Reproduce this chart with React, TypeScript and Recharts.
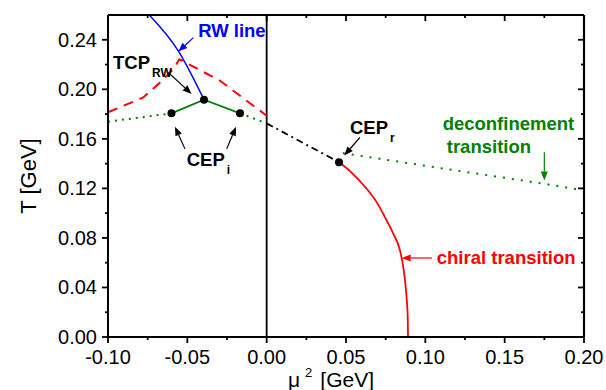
import React from 'react';
import { ComposedChart, Line, XAxis, YAxis, ReferenceLine, ReferenceDot, Label } from 'recharts';

// tick positions (majors get labels)
const xTicks = [-0.1, -0.075, -0.05, -0.025, 0, 0.025, 0.05, 0.075, 0.1, 0.125, 0.15, 0.175, 0.2];
const yTicks = [0, 0.02, 0.04, 0.06, 0.08, 0.1, 0.12, 0.14, 0.16, 0.18, 0.2, 0.22, 0.24];

// phase lines (x = mu^2, T in GeV)
const rwLine = [
  { x: -0.074, T: 0.26 },
  { x: -0.0557, T: 0.231 },
  { x: -0.0395, T: 0.1916 },
];
const rwDashed = [
  { x: -0.1, T: 0.1815 },
  { x: -0.0778, T: 0.1934 },
  { x: -0.0672, T: 0.2055 },
  { x: -0.0588, T: 0.2163 },
  { x: -0.055, T: 0.2243 },
  { x: -0.0294, T: 0.2069 },
  { x: 0.0, T: 0.1787 },
];
const firstOrder = [
  { x: -0.06, T: 0.1806 },
  { x: -0.0395, T: 0.1916 },
  { x: -0.0168, T: 0.1806 },
];
const deconfLeft = [
  { x: -0.1, T: 0.1739 },
  { x: -0.08, T: 0.1772 },
  { x: -0.06, T: 0.1806 },
];
const deconfMid = [
  { x: -0.0168, T: 0.1806 },
  { x: 0.0, T: 0.1725 },
];
const crossover = [
  { x: 0.0, T: 0.1725 },
  { x: 0.0456, T: 0.1411 },
];
const deconfRight = [
  { x: 0.048, T: 0.1485 },
  { x: 0.1155, T: 0.1352 },
  { x: 0.175, T: 0.1237 },
  { x: 0.2, T: 0.1183 },
];
const chiral = [
  { x: 0.0456, T: 0.1411 },
  { x: 0.0525, T: 0.134 },
  { x: 0.063, T: 0.1197 },
  { x: 0.0693, T: 0.1089 },
  { x: 0.0756, T: 0.0942 },
  { x: 0.0798, T: 0.0835 },
  { x: 0.084, T: 0.07 },
  { x: 0.0861, T: 0.0566 },
  { x: 0.0874, T: 0.0432 },
  { x: 0.0883, T: 0.0298 },
  { x: 0.0889, T: 0.0163 },
  { x: 0.0891, T: 0.0 },
];
const criticalPoints = [
  { x: -0.06, T: 0.1806 },
  { x: -0.0395, T: 0.1916 },
  { x: -0.0168, T: 0.1806 },
  { x: 0.0456, T: 0.1411 },
];

const FONT = '"Liberation Sans", Arial, sans-serif';
const BLUE = '#0000ff';
const RED = '#ff0000';
const GREEN = '#008000';
const TICK = '#000';

const isMajor = (v: number, step: number) => Math.abs(v / step - Math.round(v / step)) < 1e-6;

const BottomTick = ({ x, y, payload }: any) => {
  const major = isMajor(payload.value, 0.05);
  return (
    <g>
      <line x1={x} x2={x} y1={y} y2={y + (major ? 6 : 3)} stroke={TICK} strokeWidth={1.8} />
      {major && (
        <text x={x} y={y + 27} textAnchor="middle" fontSize={20} fontFamily={FONT} fill="#000">
          {payload.value.toFixed(2)}
        </text>
      )}
    </g>
  );
};

const TopTick = ({ x, y, payload }: any) => {
  const major = isMajor(payload.value, 0.05);
  return <line x1={x} x2={x} y1={y} y2={y + (major ? 6 : 3)} stroke={TICK} strokeWidth={1.8} />;
};

const LeftTick = ({ x, y, payload }: any) => {
  const major = isMajor(payload.value, 0.04);
  return (
    <g>
      <line x1={x - (major ? 6 : 3)} x2={x} y1={y} y2={y} stroke={TICK} strokeWidth={1.8} />
      {major && (
        <text x={x - 11} y={y + 7} textAnchor="end" fontSize={20} fontFamily={FONT} fill="#000">
          {payload.value.toFixed(2)}
        </text>
      )}
    </g>
  );
};

const RightTick = ({ x, y, payload }: any) => {
  const major = isMajor(payload.value, 0.04);
  return <line x1={x - (major ? 6 : 3)} x2={x} y1={y} y2={y} stroke={TICK} strokeWidth={1.8} />;
};

const arrow = (color: string) => (p: any) => {
  const { x1, y1, x2, y2 } = p;
  const a = Math.atan2(y2 - y1, x2 - x1);
  const L = 9;
  const W = 3.5;
  const bx = x2 - L * Math.cos(a);
  const by = y2 - L * Math.sin(a);
  const nx = -Math.sin(a) * W;
  const ny = Math.cos(a) * W;
  return (
    <g>
      <line x1={x1} y1={y1} x2={bx} y2={by} stroke={color} strokeWidth={1.2} />
      <polygon points={`${x2},${y2} ${bx + nx},${by + ny} ${bx - nx},${by - ny}`} fill={color} />
    </g>
  );
};

const note = (text: string, color: string, sub?: string, anchor = 'start') => (p: any) => (
  <text x={p.cx} y={p.cy} textAnchor={anchor} fontSize={18.5} fontWeight="bold" fontFamily={FONT} fill={color}>
    {text}
    {sub && (
      <tspan dx={2} dy={8} fontSize={12}>
        {sub}
      </tspan>
    )}
  </text>
);

export default function App() {
  return (
    <div style={{ position: 'absolute', left: 0, top: 0 }}>
      <ComposedChart width={606} height={390} margin={{ top: 14, right: 21, bottom: 0, left: 0 }}>
        <XAxis
          dataKey="x"
          type="number"
          domain={[-0.1, 0.2]}
          ticks={xTicks}
          interval={0}
          tickSize={0}
          tickMargin={0}
          tickLine={false}
          tick={<BottomTick />}
          height={53}
          axisLine={{ stroke: '#000', strokeWidth: 2 }}
        >
          <Label
            content={({ viewBox }: any) => (
              <text x={viewBox.x + 180} y={viewBox.y + 50} fontSize={21} fontFamily={FONT} fill="#000">
                <tspan>μ</tspan>
                <tspan dx={5} dy={-10} fontSize={13}>2</tspan>
                <tspan dx={8} dy={10}>[GeV]</tspan>
              </text>
            )}
          />
        </XAxis>
        <XAxis
          xAxisId="top"
          dataKey="x"
          orientation="top"
          type="number"
          domain={[-0.1, 0.2]}
          ticks={xTicks}
          interval={0}
          tickSize={0}
          tickMargin={0}
          tickLine={false}
          tick={<TopTick />}
          height={1}
          axisLine={{ stroke: '#000', strokeWidth: 2.2 }}
        />
        <YAxis
          dataKey="T"
          type="number"
          domain={[0, 0.26]}
          ticks={yTicks}
          interval={0}
          tickSize={0}
          tickMargin={0}
          tickLine={false}
          tick={<LeftTick />}
          width={108}
          axisLine={{ stroke: '#000', strokeWidth: 2 }}
        >
          <Label
            content={({ viewBox }: any) => {
              const cx = viewBox.x + 28;
              const cy = viewBox.y + viewBox.height / 2;
              return (
                <text
                  x={cx}
                  y={cy}
                  transform={`rotate(-90 ${cx} ${cy})`}
                  textAnchor="middle"
                  dominantBaseline="central"
                  fontSize={22}
                  fontFamily={FONT}
                  fill="#000"
                >
                  T [GeV]
                </text>
              );
            }}
          />
        </YAxis>
        <YAxis
          yAxisId="right"
          dataKey="T"
          orientation="right"
          type="number"
          domain={[0, 0.26]}
          ticks={yTicks}
          interval={0}
          tickSize={0}
          tickMargin={0}
          tickLine={false}
          tick={<RightTick />}
          width={1}
          axisLine={{ stroke: '#000', strokeWidth: 2.2 }}
        />

        <ReferenceLine x={0} stroke="#000" strokeWidth={1.8} />

        <Line data={deconfLeft} dataKey="T" stroke={GREEN} strokeWidth={2} strokeDasharray="2 5" dot={false} activeDot={false} isAnimationActive={false} />
        <Line data={deconfMid} dataKey="T" stroke={GREEN} strokeWidth={2} strokeDasharray="2 5" dot={false} activeDot={false} isAnimationActive={false} />
        <Line data={deconfRight} dataKey="T" stroke={GREEN} strokeWidth={2} strokeDasharray="2 7" dot={false} activeDot={false} isAnimationActive={false} />
        <Line data={crossover} dataKey="T" stroke="#000" strokeWidth={1.8} strokeDasharray="7 4 2 4" dot={false} activeDot={false} isAnimationActive={false} />
        <Line data={rwDashed} dataKey="T" stroke={RED} strokeWidth={2} strokeDasharray="10 7" dot={false} activeDot={false} isAnimationActive={false} />
        <Line data={firstOrder} dataKey="T" stroke={GREEN} strokeWidth={1.8} dot={false} activeDot={false} isAnimationActive={false} />
        <Line data={rwLine} type="monotone" dataKey="T" stroke={BLUE} strokeWidth={1.5} dot={false} activeDot={false} isAnimationActive={false} />
        <Line data={chiral} type="monotone" dataKey="T" stroke={RED} strokeWidth={1.8} dot={false} activeDot={false} isAnimationActive={false} />
        {/* critical points, on the mirrored frame axes (same domains) */}
        <Line
          data={criticalPoints}
          xAxisId="top"
          yAxisId="right"
          dataKey="T"
          stroke="none"
          dot={{ r: 4, fill: '#000', stroke: '#000', strokeWidth: 0 }}
          activeDot={false}
          isAnimationActive={false}
        />

        {/* annotations */}
        <ReferenceDot x={-0.0219} y={0.2425} r={0} shape={note('RW line', BLUE, undefined, 'middle')} />
        <ReferenceLine segment={[{ x: -0.0462, y: 0.2417 }, { x: -0.0557, y: 0.2305 }]} shape={arrow(BLUE)} />
        <ReferenceDot x={-0.0968} y={0.2165} r={0} shape={note('TCP', '#000', 'RW')} />
        <ReferenceLine segment={[{ x: -0.062, y: 0.2136 }, { x: -0.0473, y: 0.1962 }]} shape={arrow('#000')} />
        <ReferenceDot x={-0.0504} y={0.1377} r={0} shape={note('CEP', '#000', 'i')} />
        <ReferenceLine segment={[{ x: -0.0515, y: 0.1519 }, { x: -0.0578, y: 0.1698 }]} shape={arrow('#000')} />
        <ReferenceLine segment={[{ x: -0.0252, y: 0.1519 }, { x: -0.0193, y: 0.1698 }]} shape={arrow('#000')} />
        <ReferenceDot x={0.0525} y={0.1642} r={0} shape={note('CEP', '#000', 'r')} />
        <ReferenceLine segment={[{ x: 0.0588, y: 0.1612 }, { x: 0.0489, y: 0.1465 }]} shape={arrow('#000')} />
        <ReferenceDot x={0.1109} y={0.1674} r={0} shape={note('deconfinement', GREEN)} />
        <ReferenceDot x={0.1135} y={0.1485} r={0} shape={note('transition', GREEN)} />
        <ReferenceLine segment={[{ x: 0.175, y: 0.1492 }, { x: 0.175, y: 0.1264 }]} shape={arrow(GREEN)} />
        <ReferenceDot x={0.1072} y={0.0588} r={0} shape={note('chiral transition', RED)} />
        <ReferenceLine segment={[{ x: 0.104, y: 0.0638 }, { x: 0.0851, y: 0.0638 }]} shape={arrow(RED)} />
      </ComposedChart>
    </div>
  );
}
